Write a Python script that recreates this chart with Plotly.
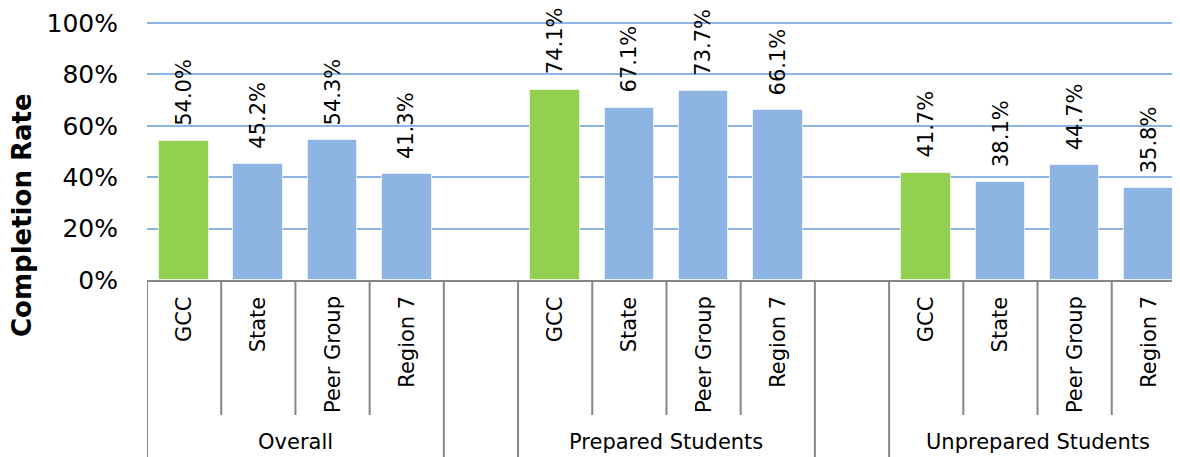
import plotly.graph_objects as go

groups = ["Overall", "Prepared Students", "Unprepared Students"]
categories = ["GCC", "State", "Peer Group", "Region 7"]
overall = [54.0, 45.2, 54.3, 41.3]
prepared = [74.1, 67.1, 73.7, 66.1]
unprepared = [41.7, 38.1, 44.7, 35.8]
series = [overall, prepared, unprepared]

y_ticks = [0, 0.2, 0.4, 0.6, 0.8, 1.0]
y_ticktext = ["0%", "20%", "40%", "60%", "80%", "100%"]

GREEN = "#92D050"
BLUE = "#8EB4E3"
FONT = "DejaVu Sans"

# slot positions: 4 bars per group, one empty slot between groups
xs, vals, cols, labels = [], [], [], []
for gi, vals_g in enumerate(series):
    for ci, v in enumerate(vals_g):
        xs.append(gi * 5 + ci)
        vals.append(v / 100)
        cols.append(GREEN if categories[ci] == "GCC" else BLUE)
        labels.append(categories[ci])

fig = go.Figure()
fig.add_trace(go.Bar(
    x=xs, y=vals, width=0.67,
    marker=dict(color=cols, line=dict(color="rgba(255,255,255,0.6)", width=1)),
    hoverinfo="skip",
))

# page body has an 8px margin: compensate so the plot lands where it should
OFF = 8
W, H = 1180 - OFF, 457 - OFF
ml, mr, mt, mb = 147 - OFF, 0, 22 - OFF, 177
plot_h = H - mt - mb
YMAX = 1.004

def py(px):
    """pixel distance below x-axis -> paper y"""
    return -px / plot_h

shapes = []
GRAY = "#868686"
for g in range(3):
    left = g * 5 - 0.5
    right = g * 5 + 3.5
    for xb in (left, right):
        shapes.append(dict(type="line", xref="x", yref="paper", x0=xb, x1=xb,
                           y0=0, y1=py(mb + 2), line=dict(color=GRAY, width=2)))
    for k in range(1, 4):
        xb = g * 5 - 0.5 + k
        shapes.append(dict(type="line", xref="x", yref="paper", x0=xb, x1=xb,
                           y0=0, y1=py(135), line=dict(color=GRAY, width=2)))

annotations = []
for x, v, lab in zip(xs, vals, labels):
    annotations.append(dict(x=x, y=v, xref="x", yref="y", text=f"{v*100:.1f}%",
                            textangle=-90, showarrow=False, yanchor="bottom",
                            xanchor="center", yshift=13,
                            font=dict(family=FONT, size=21, color="#000")))
    annotations.append(dict(x=x, y=py(14), xref="x", yref="paper", text=lab,
                            textangle=-90, showarrow=False, yanchor="top",
                            xanchor="center",
                            font=dict(family=FONT, size=21, color="#000")))
for g, name in enumerate(groups):
    annotations.append(dict(x=g * 5 + 1.5, y=py(162), xref="x", yref="paper",
                            text=name, showarrow=False, yanchor="middle",
                            xanchor="center",
                            font=dict(family=FONT, size=21, color="#000")))
annotations.append(dict(x=-125 / (W - ml - mr), y=65 / plot_h,
                        xref="paper", yref="paper", text="<b>Completion Rate</b>",
                        textangle=-90, showarrow=False, xanchor="center",
                        yanchor="middle",
                        font=dict(family=FONT, size=26, color="#000")))

fig.update_layout(
    width=W, height=H,
    margin=dict(l=ml, r=mr, t=mt, b=mb, pad=0),
    plot_bgcolor="white", paper_bgcolor="white",
    showlegend=False,
    bargap=0,
    shapes=shapes,
    annotations=annotations,
    xaxis=dict(range=[-0.5, 13.42], showticklabels=False, showgrid=False,
               zeroline=False, showline=True, linecolor=GRAY, linewidth=2,
               ticks=""),
    yaxis=dict(range=[0, YMAX], tickvals=y_ticks, ticktext=y_ticktext,
               showgrid=True, gridcolor="#8EB4E3", gridwidth=2,
               zeroline=False, showline=False, ticks="",
               ticklabelstandoff=28,
               tickfont=dict(family=FONT, size=25, color="#000")),
)

fig.write_html("out.html")
